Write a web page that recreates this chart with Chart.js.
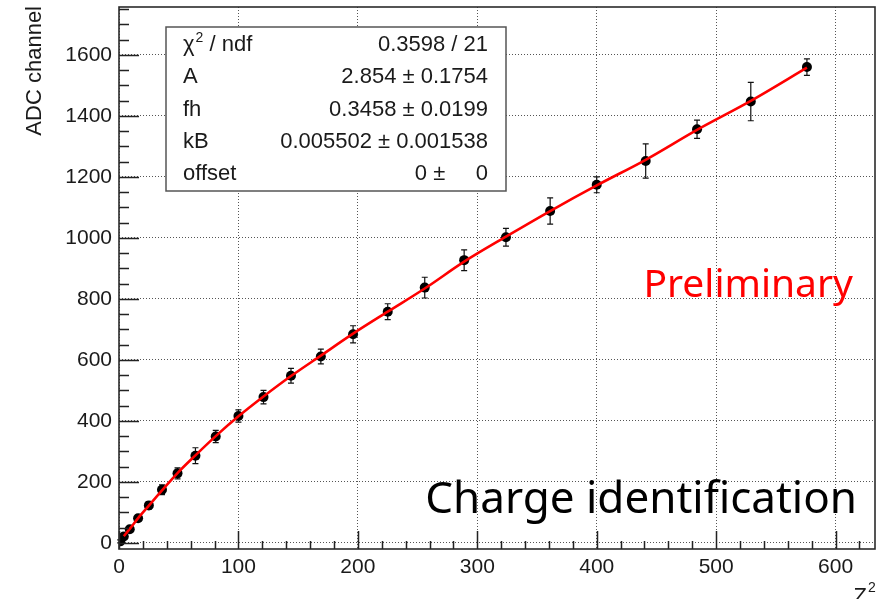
<!DOCTYPE html>
<html>
<head>
<meta charset="utf-8">
<title>ADC channel vs Z²</title>
<script src="https://cdn.jsdelivr.net/npm/chart.js@4.4.1/dist/chart.umd.min.js"></script>
<style>
    html, body { margin: 0; padding: 0; background: #fff; }
    canvas { display: block; }
</style>
</head>
<body>
<canvas id="graficoCarga" width="879" height="599"></canvas>
<script>
// Datos medidos: Z^2, canal ADC y su error
const z2 = [1, 4, 9, 16, 25, 36, 49, 64, 81, 100, 121, 144, 169, 196, 225, 256, 289, 324, 361, 400, 441, 484, 529, 576];
const adc = [5, 21, 45, 81, 123, 174, 228, 286, 349, 416, 478, 548, 611, 684, 758, 837, 927, 1002, 1088, 1174, 1252, 1356, 1447, 1560];
const adcErr = [5, 6, 8, 10, 12, 16, 18, 26, 20, 20, 22, 24, 24, 28, 26, 34, 34, 29, 43, 26, 56, 30, 63, 27];

// Curva del ajuste (roja)
const fitZ2 = [4, 9, 16, 25, 36, 49, 64, 81, 100, 121, 144, 169, 196, 225, 256, 289, 324, 361, 400, 441, 484, 529, 576];
const fitAdc = [22, 46, 81, 122, 172, 229, 287, 350, 415, 480, 547, 614, 686, 758, 834, 922, 1004, 1088, 1172, 1256, 1354, 1449, 1558];

// Etiquetas de los ejes
const xTicks = [0, 100, 200, 300, 400, 500, 600];
const yTicks = [0, 200, 400, 600, 800, 1000, 1200, 1400, 1600];

// Caja de estadística del ajuste
const statsLabels = ['χ² / ndf', 'A', 'fh', 'kB', 'offset'];
const statsValues = ['0.3598 / 21', '2.854 \u00b1 0.1754', '0.3458 \u00b1 0.0199', '0.005502 \u00b1 0.001538', '0 \u00b1     0'];

const FUENTE = '"Liberation Sans", Arial, sans-serif';

// Error vertical de cada punto
const barrasError = {
    id: 'barrasError',
    beforeDatasetsDraw(chart) {
        const { ctx, scales: { x, y } } = chart;
        ctx.save();
        ctx.strokeStyle = '#111';
        ctx.lineWidth = 1.2;
        z2.forEach((v, i) => {
            const px = x.getPixelForValue(v);
            const top = y.getPixelForValue(adc[i] + adcErr[i]);
            const bot = y.getPixelForValue(adc[i] - adcErr[i]);
            ctx.beginPath();
            ctx.moveTo(px, top); ctx.lineTo(px, bot);
            ctx.moveTo(px - 3, top); ctx.lineTo(px + 3, top);
            ctx.moveTo(px - 3, bot); ctx.lineTo(px + 3, bot);
            ctx.stroke();
        });
        ctx.restore();
    }
};

// Texto con superíndice "²"
function textoSup(ctx, texto, x, y, size) {
    const partes = texto.split('²');
    ctx.font = size + 'px ' + FUENTE;
    ctx.fillText(partes[0], x, y);
    let cx = x + ctx.measureText(partes[0]).width;
    ctx.font = Math.round(size * 0.65) + 'px ' + FUENTE;
    ctx.fillText('2', cx + 1, y - size * 0.32);
    cx += ctx.measureText('2').width + 1;
    ctx.font = size + 'px ' + FUENTE;
    if (partes[1]) ctx.fillText(partes[1], cx, y);
}

// Marco, marcas interiores, títulos, caja y textos
const decoracion = {
    id: 'decoracion',
    afterDraw(chart) {
        const { ctx, chartArea: a, scales: { x, y } } = chart;
        ctx.save();

        // marcas hacia dentro del marco
        ctx.strokeStyle = '#222';
        ctx.lineWidth = 1.5;
        ctx.beginPath();
        for (let v = 0; v <= x.max; v += 20) {
            const px = Math.round(x.getPixelForValue(v)) + 0.5;
            const len = v % 100 === 0 ? 18 : 8;
            ctx.moveTo(px, a.bottom); ctx.lineTo(px, a.bottom - len);
        }
        for (let v = 0; v <= y.max; v += 50) {
            const py = Math.round(y.getPixelForValue(v)) + 0.5;
            const len = v % 200 === 0 ? 20 : 10;
            ctx.moveTo(a.left, py); ctx.lineTo(a.left + len, py);
        }
        ctx.stroke();

        // marco
        ctx.strokeStyle = '#2b2b2b';
        ctx.lineWidth = 1.6;
        ctx.strokeRect(a.left, a.top, a.right - a.left, a.bottom - a.top);

        // títulos de los ejes
        ctx.fillStyle = '#1a1a1a';
        ctx.save();
        ctx.translate(35, a.top - 1);
        ctx.rotate(-Math.PI / 2);
        ctx.font = '22px ' + FUENTE;
        ctx.textAlign = 'right';
        ctx.textBaseline = 'middle';
        ctx.fillText('ADC channel', 0, 0);
        ctx.restore();

        ctx.textAlign = 'right';
        ctx.textBaseline = 'alphabetic';
        ctx.font = '22px ' + FUENTE;
        ctx.fillText('Z', a.right - 8, 603);
        ctx.textAlign = 'left';
        ctx.font = '14px ' + FUENTE;
        ctx.fillText('2', a.right - 7, 592);

        // caja de estadística
        const bx = a.left + 47, by = a.top + 20, bw = 340, bh = 164;
        ctx.fillStyle = '#fff';
        ctx.fillRect(bx, by, bw, bh);
        ctx.strokeStyle = '#555';
        ctx.lineWidth = 1.5;
        ctx.strokeRect(bx, by, bw, bh);
        ctx.fillStyle = '#1a1a1a';
        ctx.textBaseline = 'middle';
        statsLabels.forEach((lab, i) => {
            const ty = by + 18 + i * 32.3;
            ctx.textAlign = 'left';
            if (lab.includes('²')) {
                textoSup(ctx, lab, bx + 17, ty, 22);
            } else {
                ctx.font = '22px ' + FUENTE;
                ctx.fillText(lab, bx + 17, ty);
            }
            ctx.textAlign = 'right';
            ctx.font = '22px ' + FUENTE;
            ctx.fillText(statsValues[i], bx + bw - 18, ty);
        });

        // anotaciones
        ctx.textBaseline = 'alphabetic';
        ctx.textAlign = 'right';
        ctx.fillStyle = '#ff0000';
        ctx.font = '39px "Noto Sans", sans-serif';
        ctx.fillText('Preliminary', 853, 297);
        ctx.fillStyle = '#000';
        ctx.font = '44px "Noto Sans", sans-serif';
        ctx.fillText('Charge identification', 857, 513);

        ctx.restore();
    }
};

const ctx = document.getElementById('graficoCarga');
new Chart(ctx, {
    type: 'scatter',
    data: {
        datasets: [{
            label: 'Ajuste',
            data: fitZ2.map((v, i) => ({ x: v, y: fitAdc[i] })),
            showLine: true,
            borderColor: '#ff0000',
            borderWidth: 2.6,
            pointRadius: 0,
            cubicInterpolationMode: 'monotone'
        }, {
            label: 'ADC',
            data: z2.map((v, i) => ({ x: v, y: adc[i] })),
            showLine: false,
            pointRadius: 5,
            pointBackgroundColor: '#000',
            pointBorderColor: '#000',
            pointBorderWidth: 0
        }]
    },
    options: {
        responsive: false,
        animation: false,
        events: [],
        layout: { autoPadding: false, padding: { top: 7, right: 4, left: 0, bottom: 0 } },
        scales: {
            x: {
                type: 'linear',
                min: 0,
                max: 633,
                afterBuildTicks: s => { s.ticks = xTicks.map(v => ({ value: v })); },
                afterFit: s => { s.height = 50; s.paddingLeft = 0; s.paddingRight = 0; },
                grid: { color: '#555', lineWidth: 1, drawTicks: false },
                border: { display: false, dash: [1, 2] },
                ticks: {
                    autoSkip: false,
                    maxRotation: 0,
                    padding: 6,
                    color: '#1a1a1a',
                    font: { family: FUENTE, size: 21 },
                    callback: v => String(v)
                }
            },
            y: {
                type: 'linear',
                min: -20,
                max: 1757,
                afterBuildTicks: s => { s.ticks = yTicks.map(v => ({ value: v })); },
                afterFit: s => { s.width = 119; s.paddingTop = 0; s.paddingBottom = 0; },
                grid: { color: '#555', lineWidth: 1, drawTicks: false },
                border: { display: false, dash: [1, 2] },
                ticks: {
                    autoSkip: false,
                    padding: 7,
                    color: '#1a1a1a',
                    font: { family: FUENTE, size: 21 },
                    callback: v => String(v)
                }
            }
        },
        plugins: {
            legend: { display: false },
            tooltip: { enabled: false }
        }
    },
    plugins: [barrasError, decoracion]
});
</script>
</body>
</html>
